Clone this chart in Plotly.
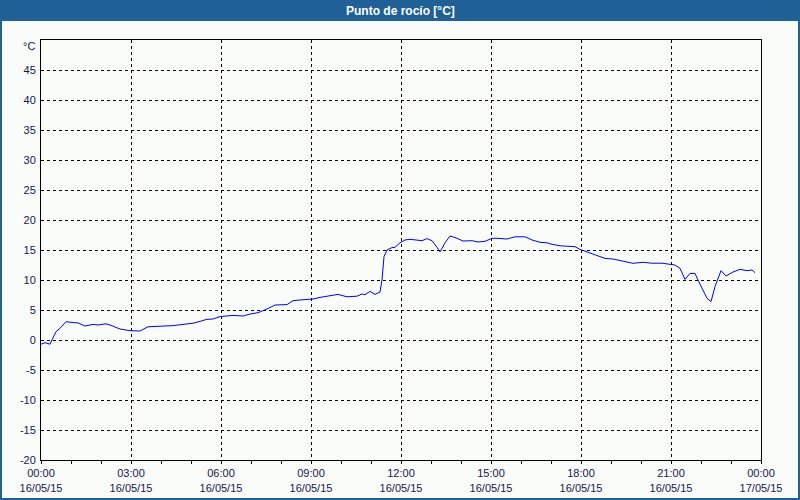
import plotly.graph_objects as go

# ---- data ----
times = ["00:00", "00:08", "00:18", "00:22", "00:30", "00:38", "00:50", "01:04", "01:14", "01:28",
         "01:44", "01:54", "02:10", "02:18", "02:38", "02:58", "03:18", "03:34", "04:04", "04:24",
         "04:44", "05:04", "05:18", "05:32", "05:44", "05:58", "06:24", "06:44", "06:58", "07:14",
         "07:32", "07:48", "08:12", "08:24", "08:38", "08:54", "09:04", "09:18", "09:38", "09:54",
         "10:12", "10:32", "10:42", "10:48", "10:58", "11:08", "11:18", "11:22", "11:26", "11:32",
         "11:42", "11:48", "11:58", "12:08", "12:18", "12:42", "12:52", "13:02", "13:12", "13:18",
         "13:28", "13:38", "13:52", "14:04", "14:22", "14:34", "14:48", "15:02", "15:12", "15:32",
         "15:48", "16:08", "16:22", "16:38", "16:52", "17:02", "17:18", "17:48", "17:58", "18:18",
         "18:48", "19:04", "19:24", "19:44", "20:04", "20:22", "20:42", "20:58", "21:08", "21:18",
         "21:28", "21:38", "21:48", "21:54", "22:12", "22:20", "22:28", "22:40", "22:50", "23:04",
         "23:18", "23:32", "23:42", "23:48"]
dew_point = [-0.7, -0.45, -0.7, 0.0, 1.4, 1.95, 3.05, 2.9, 2.85, 2.33,
             2.6, 2.5, 2.7, 2.5, 1.83, 1.55, 1.5, 2.2, 2.3, 2.4,
             2.6, 2.8, 3.1, 3.45, 3.5, 3.9, 4.1, 4.0, 4.33, 4.55,
             5.17, 5.83, 5.9, 6.55, 6.67, 6.72, 6.83, 7.1, 7.4, 7.6,
             7.2, 7.3, 7.67, 7.55, 8.1, 7.6, 8.0, 10.0, 13.9, 15.0,
             15.4, 15.45, 16.2, 16.67, 16.78, 16.55, 16.9, 16.55, 15.45, 14.67,
             16.2, 17.33, 16.95, 16.5, 16.55, 16.33, 16.45, 16.95, 16.95, 16.83,
             17.2, 17.2, 16.67, 16.28, 16.2, 15.95, 15.7, 15.55, 15.1, 14.55,
             13.6, 13.5, 13.2, 12.78, 12.95, 12.8, 12.8, 12.6, 12.5, 11.95,
             10.1, 11.1, 11.1, 10.0, 6.95, 6.4, 8.9, 11.55, 10.67, 11.33,
             11.78, 11.55, 11.67, 11.22]

x_tick_vals = ["2015-05-16 00:00", "2015-05-16 03:00", "2015-05-16 06:00", "2015-05-16 09:00",
               "2015-05-16 12:00", "2015-05-16 15:00", "2015-05-16 18:00", "2015-05-16 21:00",
               "2015-05-17 00:00"]
x_tick_text = ["00:00<br>16/05/15", "03:00<br>16/05/15", "06:00<br>16/05/15", "09:00<br>16/05/15",
               "12:00<br>16/05/15", "15:00<br>16/05/15", "18:00<br>16/05/15", "21:00<br>16/05/15",
               "00:00<br>17/05/15"]
y_tick_vals = [-20, -15, -10, -5, 0, 5, 10, 15, 20, 25, 30, 35, 40, 45]

title_text = "Punto de rocío [°C]"
unit_text = "°C"

x = ["2015-05-16 " + t for t in times]

W, H = 800, 500
ML, MR, MT, MB = 41, 39, 40, 40
PW, PH = W - ML - MR, H - MT - MB

def px_x(p):
    return (p - ML) / PW

def px_y(p):
    return (H - MB - p) / PH

bar_blue = "#1F6096"
label_col = "#16164F"
bg = "#F9FCF9"

fig = go.Figure()
fig.add_trace(go.Scatter(x=x, y=dew_point, mode="lines",
                         line=dict(color="#0000FF", width=1), hoverinfo="x+y",
                         showlegend=False))

fig.update_layout(
    width=W, height=H,
    margin=dict(l=ML, r=MR, t=MT, b=MB, pad=0, autoexpand=False),
    paper_bgcolor=bg, plot_bgcolor=bg,
    font=dict(family="Liberation Sans, Arial, sans-serif", size=11, color=label_col),
    showlegend=False,
)

fig.update_xaxes(
    type="date", automargin=False,
    range=["2015-05-16 00:00", "2015-05-17 00:00"],
    tickmode="array", tickvals=x_tick_vals, ticktext=x_tick_text,
    ticks="outside", ticklen=3, tickcolor="black", tickwidth=1,
    minor=dict(ticks="outside", ticklen=3, tickcolor="black", dtick=3600000,
               tick0="2015-05-16 00:00", showgrid=False),
    showgrid=True, gridcolor="black", gridwidth=1, griddash="3px,3px",
    showline=True, linecolor="black", linewidth=1, mirror=True,
    zeroline=False, tickfont=dict(size=11, color=label_col),
    fixedrange=True,
)
fig.update_yaxes(
    range=[-20, 50], automargin=False,
    tickmode="array", tickvals=y_tick_vals, ticktext=[str(v) for v in y_tick_vals],
    ticks="", ticklabelstandoff=2,
    showgrid=True, gridcolor="black", gridwidth=1, griddash="3px,3px",
    showline=True, linecolor="black", linewidth=1, mirror=True,
    zeroline=False, tickfont=dict(size=11, color=label_col),
    fixedrange=True,
)

# title bar and frame
fig.add_shape(type="rect", xref="paper", yref="paper",
              x0=px_x(0), x1=px_x(W), y0=px_y(21), y1=px_y(0),
              fillcolor=bar_blue, line=dict(width=0), layer="above")
fig.add_shape(type="rect", xref="paper", yref="paper",
              x0=px_x(0), x1=px_x(2), y0=px_y(H), y1=px_y(0),
              fillcolor=bar_blue, line=dict(width=0), layer="above")
fig.add_shape(type="rect", xref="paper", yref="paper",
              x0=px_x(W - 2), x1=px_x(W), y0=px_y(H), y1=px_y(0),
              fillcolor=bar_blue, line=dict(width=0), layer="above")
fig.add_shape(type="rect", xref="paper", yref="paper",
              x0=px_x(0), x1=px_x(W), y0=px_y(H), y1=px_y(H - 2),
              fillcolor=bar_blue, line=dict(width=0), layer="above")

fig.add_annotation(text="<b>" + title_text + "</b>", xref="paper", yref="paper",
                   x=px_x(W / 2), y=px_y(10.5), xanchor="center", yanchor="middle",
                   showarrow=False, font=dict(color="white", size=12,
                                              family="Liberation Sans, Arial, sans-serif"))
fig.add_annotation(text=unit_text, xref="paper", yref="paper",
                   x=px_x(37), y=px_y(46), xanchor="right", yanchor="middle",
                   showarrow=False, font=dict(color=label_col, size=11))

fig.write_html("out.html", config={"displayModeBar": False},
               post_script="document.body.style.margin='0';"
                           "document.body.style.padding='0';"
                           "document.body.style.overflow='hidden';")
